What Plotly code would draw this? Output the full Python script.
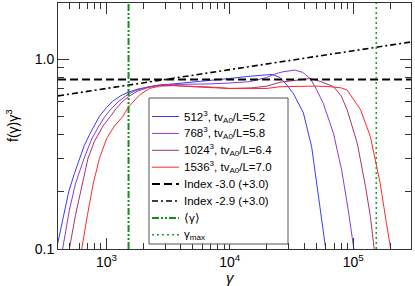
import plotly.graph_objects as go

# ---- data ----
g512 = [400, 450, 494, 550, 607, 660, 728, 800, 877, 1000, 1125, 1300, 1510, 1800, 2200, 2700, 3500, 5000, 7800,
        10000, 14000, 19900, 22000, 25500, 29000, 32700, 39500, 46100, 52200, 59200, 62000]
f512 = [0.105, 0.15, 0.2, 0.25, 0.3, 0.35, 0.4, 0.45, 0.5, 0.555, 0.6, 0.64, 0.67, 0.695, 0.715, 0.73, 0.74, 0.755, 0.775,
        0.79, 0.81, 0.83, 0.83, 0.80, 0.73, 0.66, 0.52, 0.345, 0.196, 0.105, 0.085]

g768 = [420, 441, 500, 560, 658, 760, 860, 975, 1100, 1260, 1510, 1800, 2200, 2700, 3500, 5000, 7000, 10000, 14500,
        19900, 24000, 27000, 33700, 39000, 44800, 50000, 57200, 69300, 80700, 91300, 100000, 105000]
f768 = [0.085, 0.1, 0.16, 0.22, 0.3, 0.38, 0.44, 0.5, 0.55, 0.6, 0.655, 0.69, 0.715, 0.73, 0.735, 0.735, 0.74, 0.748, 0.76,
        0.80, 0.84, 0.857, 0.875, 0.85, 0.79, 0.70, 0.585, 0.406, 0.26, 0.16, 0.105, 0.085]

g1024 = [470, 500, 560, 620, 708, 800, 950, 1080, 1200, 1360, 1510, 1800, 2200, 2700, 3500, 5000, 7000, 10000, 15000,
         20000, 25500, 37000, 45000, 55000, 69300, 80000, 89400, 108000, 126000, 138000, 147000, 151000]
f1024 = [0.085, 0.1, 0.15, 0.2, 0.3, 0.37, 0.45, 0.5, 0.55, 0.6, 0.635, 0.68, 0.71, 0.725, 0.725, 0.715, 0.705, 0.70, 0.705,
         0.72, 0.755, 0.78, 0.79, 0.76, 0.715, 0.64, 0.54, 0.36, 0.213, 0.148, 0.103, 0.09]

g1536 = [600, 630, 700, 780, 877, 1000, 1150, 1360, 1510, 1700, 1850, 2230, 2700, 3500, 5000, 7000, 10000, 15000, 20000,
         25500, 37000, 50000, 65000, 80000, 89400, 100000, 115000, 138000, 166000, 185000, 200000, 210000]
f1536 = [0.085, 0.1, 0.15, 0.22, 0.3, 0.38, 0.44, 0.5, 0.56, 0.61, 0.646, 0.70, 0.72, 0.725, 0.72, 0.712, 0.70, 0.698, 0.70,
         0.715, 0.72, 0.72, 0.715, 0.705, 0.687, 0.62, 0.54, 0.39, 0.22, 0.14, 0.1, 0.085]

index_g = [405, 294000]
index30_f = [0.78, 0.78]
index29_f = [0.64, 1.23]

gamma_mean = 1510
gamma_max = 154000

series_names = ["512<sup>3</sup>, tv<sub>A0</sub>/L=5.2", "768<sup>3</sup>, tv<sub>A0</sub>/L=5.8",
                "1024<sup>3</sup>, tv<sub>A0</sub>/L=6.4", "1536<sup>3</sup>, tv<sub>A0</sub>/L=7.0"]
series_colors = ["#3a3aff", "#8a3ad8", "#b0306e", "#ff2a2a"]
extra_names = ["Index -3.0 (+3.0)", "Index -2.9 (+3.0)", "\u27e8\u03b3\u27e9", "\u03b3<sub>max</sub>"]

x_tickvals = [1e3, 1e4, 1e5]
x_ticktext = ["10<sup>3</sup>", "10<sup>4</sup>", "10<sup>5</sup>"]
y_tickvals = [0.1, 1.0]
y_ticktext = ["0.1", "1.0"]

x_range = [2.607, 5.469]
y_range = [-1.0, 0.295]

FONT = "Liberation Sans, Arial, Helvetica, sans-serif"
W, H = 415, 286
ML, MR, MT, MB = 58, 4, 3, 37
PW, PH = W - ML - MR, H - MT - MB


def px(x):
    return (x - ML) / PW


def py(y):
    return 1 - (y - MT) / PH


styles = [dict(color=c, width=1) for c in series_colors] + [
    dict(color="black", width=2, dash="8px,4px"),
    dict(color="black", width=1.6, dash="6px,3px,2px,3px"),
    dict(color="#1e8a1e", width=2, dash="7px,2px,2px,2px,2px,2px"),
    dict(color="#22a022", width=1.6, dash="2px,3px"),
]

fig = go.Figure()
for gx, fy, name, st in zip([g512, g768, g1024, g1536], [f512, f768, f1024, f1536], series_names, styles[:4]):
    fig.add_trace(go.Scatter(x=gx, y=fy, mode="lines", name=name, line=st))

fig.add_trace(go.Scatter(x=index_g, y=index30_f, mode="lines", name=extra_names[0], line=styles[4]))
fig.add_trace(go.Scatter(x=index_g, y=index29_f, mode="lines", name=extra_names[1], line=styles[5]))

y_lo, y_hi = 10 ** y_range[0], 10 ** y_range[1]
fig.add_trace(go.Scatter(x=[gamma_mean, gamma_mean], y=[y_lo, y_hi], mode="lines", name=extra_names[2],
                         line=styles[6]))
fig.add_trace(go.Scatter(x=[gamma_max, gamma_max], y=[y_lo, y_hi], mode="lines", name=extra_names[3],
                         line=styles[7]))

# ---- legend drawn by hand (box, samples, labels) ----
box = dict(x0=149, x1=288, y0=98, y1=244)
fig.add_shape(type="rect", xref="paper", yref="paper", x0=px(box["x0"]), x1=px(box["x1"]),
              y0=py(box["y1"]), y1=py(box["y0"]), line=dict(color="#555", width=1), fillcolor="white", layer="above")
labels = series_names + extra_names
row0, step = 116.5, 16.9
for i, (lab, st) in enumerate(zip(labels, styles)):
    yy = py(row0 + i * step)
    fig.add_shape(type="line", xref="paper", yref="paper", x0=px(152), x1=px(179), y0=yy, y1=yy,
                  line=st, layer="above")
    fig.add_annotation(text=lab, xref="paper", yref="paper", x=px(182), y=yy, xanchor="left", yanchor="middle",
                       showarrow=False, font=dict(family=FONT, size=11.5, color="black"))

minor_x = [m * 10 ** e for e in range(2, 6) for m in range(2, 10)]
minor_y = [m * 10 ** e for e in range(-1, 1) for m in range(2, 10)]

axis_common = dict(showline=True, linecolor="#333", linewidth=1, mirror="ticks", ticks="inside",
                   tickcolor="#333", tickwidth=1, ticklen=11, showgrid=False, zeroline=False,
                   tickfont=dict(family=FONT, size=14, color="black"))

fig.update_xaxes(type="log", range=x_range, tickmode="array", tickvals=x_tickvals, ticktext=x_ticktext,
                 minor=dict(tickmode="array", tickvals=minor_x, ticks="inside", ticklen=6, tickcolor="#333",
                            showgrid=False),
                 **axis_common)
fig.update_yaxes(type="log", range=y_range, tickmode="array", tickvals=y_tickvals, ticktext=y_ticktext,
                 minor=dict(tickmode="array", tickvals=minor_y, ticks="inside", ticklen=6, tickcolor="#333",
                            showgrid=False),
                 **axis_common)

fig.add_annotation(text="f(\u03b3)\u03b3<sup>3</sup>", xref="paper", yref="paper", x=px(12), y=0.5,
                   textangle=-90, showarrow=False, font=dict(family=FONT, size=14, color="black"),
                   xanchor="center", yanchor="middle")
fig.add_annotation(text="<i>\u03b3</i>", xref="paper", yref="paper", x=px(230), y=py(277),
                   showarrow=False, font=dict(family=FONT, size=15, color="black"),
                   xanchor="center", yanchor="middle")

fig.update_layout(
    width=W, height=H,
    margin=dict(l=ML, r=MR, t=MT, b=MB),
    paper_bgcolor="white", plot_bgcolor="white",
    font=dict(family=FONT, size=12, color="black"),
    showlegend=False,
)

fig.write_html("out.html", config={"displayModeBar": False, "staticPlot": True},
               post_script="document.body.style.margin='0';document.body.style.overflow='hidden';")
